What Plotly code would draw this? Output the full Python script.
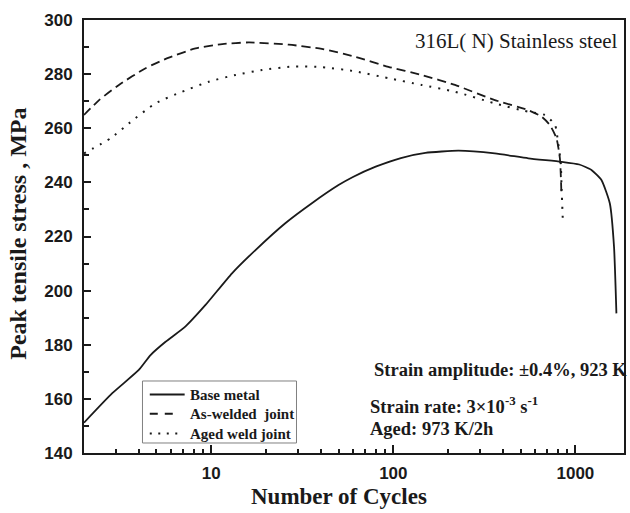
import plotly.graph_objects as go

# Peak tensile stress vs. number of cycles, 316L(N) stainless steel
base_cycles = [2, 2.86, 4.0, 4.64, 5.61, 7.2, 9.3, 13, 17.5, 25.5, 35.7, 50, 60, 80,
               110, 150, 228, 361, 551, 837, 1050, 1225, 1390, 1545, 1630, 1680]
base_stress = [151.2, 162.1, 170.7, 176.2, 181.1, 186.7, 194.7, 206.4, 215, 224.9,
               232.3, 239.0, 242.0, 245.8, 249.0, 250.9, 251.7, 250.7, 248.9, 247.6,
               246.6, 244.6, 240.9, 232.3, 216.2, 191.6]

welded_cycles = [2, 2.42, 3.11, 4.36, 5.85, 8.2, 11.5, 16.1, 26.6, 40.5, 62, 94,
                 143, 218, 361, 551, 652, 724, 787, 822, 838]
welded_stress = [264.9, 270.4, 276, 282.2, 286.1, 289.5, 291.1, 291.7, 290.9, 289.3,
                 286.4, 282.7, 279.7, 276, 270.4, 266.7, 264.3, 261.2, 256.3, 248.9,
                 236]

aged_cycles = [2, 2.8, 3.53, 4.94, 6.92, 9.7, 13.6, 19, 27.7, 40.5, 62, 94,
               143, 218, 361, 551, 679, 773, 802, 830, 840, 855]
aged_stress = [250.7, 256.3, 261.8, 269.2, 273.5, 277.2, 279.7, 281.5, 282.8, 282.6,
               281, 278.5, 276, 273.5, 269.2, 266.1, 264.9, 261.2, 255, 247.6,
               237.8, 224.2]

series_names = ["Base metal", "As-welded  joint", "Aged weld joint"]
series_dash = ["solid", "8px,7px", "2px,6.5px"]
x_ticks = [10, 100, 1000]
y_ticks = [140, 160, 180, 200, 220, 240, 260, 280, 300]

SERIF = "Liberation Serif, Times New Roman, serif"
SANS = "Liberation Sans, Arial, sans-serif"
INK = "#1a1a1a"

fig = go.Figure()
fig.add_trace(go.Scatter(x=base_cycles, y=base_stress, mode="lines", name=series_names[0],
                         line=dict(color=INK, width=1.8, shape="spline", smoothing=0.5)))
fig.add_trace(go.Scatter(x=welded_cycles, y=welded_stress, mode="lines", name=series_names[1],
                         line=dict(color=INK, width=1.8, dash="9px,5px", shape="spline", smoothing=0.6)))
fig.add_trace(go.Scatter(x=aged_cycles, y=aged_stress, mode="lines", name=series_names[2],
                         line=dict(color=INK, width=2, dash="2px,7px", shape="spline", smoothing=0.6)))

fig.update_layout(
    width=630, height=513,
    margin=dict(l=84, r=4, t=20, b=60),
    paper_bgcolor="white", plot_bgcolor="white",
    showlegend=False,
)

fig.update_xaxes(
    type="log", range=[0.301, 3.267],
    tickmode="array", tickvals=x_ticks, ticktext=[str(v) for v in x_ticks],
    ticks="inside", ticklen=8, tickwidth=1.5, tickcolor=INK,
    minor=dict(ticks="inside", ticklen=4, tickwidth=1.5, tickcolor=INK, dtick="D1", showgrid=False),
    showline=True, linecolor=INK, linewidth=2, mirror=True,
    showgrid=False, zeroline=False,
    tickfont=dict(family=SANS, size=17, color=INK, weight="bold"),
    ticklabelstandoff=4,
)
fig.update_yaxes(
    range=[140, 300],
    tickmode="array", tickvals=y_ticks,
    ticks="inside", ticklen=7, tickwidth=1.5, tickcolor=INK,
    minor=dict(ticks="inside", ticklen=5, tickwidth=1.5, tickcolor=INK, dtick=10, showgrid=False),
    showline=True, linecolor=INK, linewidth=2, mirror=True,
    showgrid=False, zeroline=False,
    tickfont=dict(family=SANS, size=17, color=INK, weight="bold"),
    ticklabelstandoff=6,
)

# Boxed key in the lower-left corner of the plot area
key_box = dict(x0=0.1083, x1=0.3935, y0=0.0231, y1=0.1663)
key_rows = [0.1351, 0.0905, 0.045]
key_line_ends = [0.1864, 0.1648, 0.1758]
shapes = [dict(type="rect", xref="paper", yref="paper", layer="above",
               fillcolor="white", line=dict(color="#808080", width=1), **key_box)]
annotations = []
for name, dash, row, x_end in zip(series_names, series_dash, key_rows, key_line_ends):
    shapes.append(dict(type="line", xref="paper", yref="paper", layer="above",
                       x0=0.1218, x1=x_end, y0=row, y1=row,
                       line=dict(color=INK, width=2 if dash != "solid" else 1.8, dash=dash)))
    annotations.append(dict(text=name, x=0.1924, y=row, xref="paper", yref="paper",
                            xanchor="left", yanchor="middle", showarrow=False,
                            font=dict(family=SERIF, size=15, color=INK, weight="bold")))

annotations += [
    dict(text="Number of Cycles", x=0.4714, y=-0.1016, xref="paper", yref="paper",
         xanchor="center", yanchor="middle", showarrow=False,
         font=dict(family=SERIF, size=23, color=INK, weight="bold")),
    dict(text="Peak tensile stress , MPa", x=-0.1218, y=0.507, xref="paper", yref="paper",
         xanchor="center", yanchor="middle", textangle=-90, showarrow=False,
         font=dict(family=SERIF, size=24, color=INK, weight="bold")),
    dict(text="316L( N) Stainless steel", x=0.992, y=0.9515, xref="paper", yref="paper",
         xanchor="right", yanchor="middle", showarrow=False,
         font=dict(family=SERIF, size=21, color=INK)),
    dict(text="Strain amplitude: \u00b10.4%, 923 K", x=0.533, y=0.1917, xref="paper", yref="paper",
         xanchor="left", yanchor="middle", showarrow=False,
         font=dict(family=SERIF, size=18.5, color=INK, weight="bold")),
    dict(text="Strain rate: 3\u00d710<sup>-3</sup> s<sup>-1</sup>", x=0.526, y=0.111,
         xref="paper", yref="paper", xanchor="left", yanchor="middle", showarrow=False,
         font=dict(family=SERIF, size=18.5, color=INK, weight="bold")),
    dict(text="Aged: 973 K/2h", x=0.526, y=0.055, xref="paper", yref="paper",
         xanchor="left", yanchor="middle", showarrow=False,
         font=dict(family=SERIF, size=18.5, color=INK, weight="bold")),
]
fig.update_layout(shapes=shapes, annotations=annotations)

fig.write_html("out.html")
